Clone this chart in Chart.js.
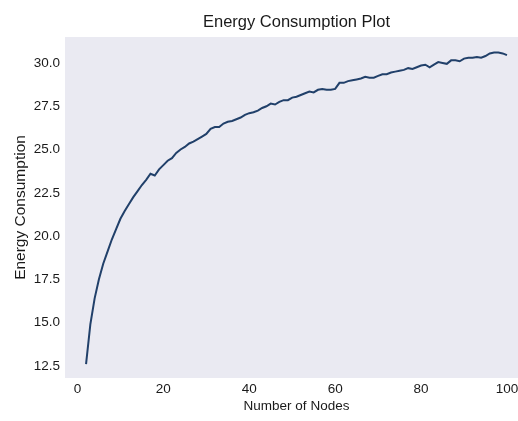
<!DOCTYPE html>
<html lang="en">
<head>
    <meta charset="UTF-8">
    <title>Energy Consumption Plot</title>
    <style>
        html, body {
            margin: 0;
            padding: 0;
            overflow: hidden;
            background: #ffffff;
        }
    </style>
</head>
<body>
    <canvas id="energyChart" width="530" height="421"></canvas>

    <script src="https://cdn.jsdelivr.net/npm/chart.js"></script>
    <script>
        // Number of nodes (x) and energy consumption (y)
        const nodes = [
            2, 3, 4, 5, 6, 7, 8, 9, 10, 11, 12, 13, 14, 15, 16, 17, 18, 19, 20,
            21, 22, 23, 24, 25, 26, 27, 28, 29, 30, 31, 32, 33, 34, 35, 36, 37, 38, 39, 40,
            41, 42, 43, 44, 45, 46, 47, 48, 49, 50, 51, 52, 53, 54, 55, 56, 57, 58, 59, 60,
            61, 62, 63, 64, 65, 66, 67, 68, 69, 70, 71, 72, 73, 74, 75, 76, 77, 78, 79, 80,
            81, 82, 83, 84, 85, 86, 87, 88, 89, 90, 91, 92, 93, 94, 95, 96, 97, 98, 99, 100
        ];
        const energy = [
            12.6, 14.9, 16.4, 17.5, 18.4, 19.1, 19.8, 20.4, 21.0, 21.45, 21.85, 22.25, 22.6, 22.95, 23.25, 23.6, 23.5, 23.85, 24.1,
            24.35, 24.5, 24.8, 25.0, 25.15, 25.35, 25.45, 25.6, 25.75, 25.9, 26.2, 26.3, 26.3, 26.5, 26.6, 26.65, 26.75, 26.85, 27.0, 27.1,
            27.15, 27.25, 27.4, 27.5, 27.65, 27.6, 27.75, 27.85, 27.85, 28.0, 28.05, 28.15, 28.25, 28.35, 28.3, 28.45, 28.5, 28.45, 28.45, 28.5,
            28.85, 28.85, 28.95, 29.0, 29.05, 29.1, 29.2, 29.15, 29.15, 29.25, 29.35, 29.35, 29.45, 29.5, 29.55, 29.6, 29.7, 29.65, 29.75, 29.85,
            29.9, 29.75, 29.9, 30.05, 30.0, 29.95, 30.15, 30.15, 30.1, 30.25, 30.3, 30.3, 30.35, 30.3, 30.4, 30.55, 30.6, 30.6, 30.55, 30.45
        ];
        const xTicks = [0, 20, 40, 60, 80, 100];
        const yTicks = [12.5, 15.0, 17.5, 20.0, 22.5, 25.0, 27.5, 30.0];

        const FONT = "'Liberation Sans', Arial, sans-serif";
        const TEXT = '#1a1a1a';

        // Fill the plot area with the seaborn grey-blue
        const plotBackground = {
            id: 'plotBackground',
            beforeDraw(chart) {
                const a = chart.chartArea;
                const c = chart.ctx;
                c.save();
                c.fillStyle = '#eaeaf2';
                c.fillRect(a.left, a.top, a.right - a.left, a.bottom - a.top);
                c.restore();
            }
        };

        const ctx = document.getElementById('energyChart').getContext('2d');
        new Chart(ctx, {
            type: 'line',
            data: {
                datasets: [{
                    label: 'Energy Consumption',
                    data: nodes.map((n, i) => ({ x: n, y: energy[i] })),
                    borderColor: '#21406a',
                    borderWidth: 2,
                    pointRadius: 0,
                    tension: 0,
                    fill: false
                }]
            },
            options: {
                responsive: false,
                animation: false,
                layout: { padding: { left: 0, right: 2, top: 0, bottom: 0 } },
                plugins: {
                    legend: { display: false },
                    tooltip: { enabled: false },
                    title: {
                        display: true,
                        text: 'Energy Consumption Plot',
                        fullSize: false,
                        color: TEXT,
                        font: { family: FONT, size: 16.5, weight: 'normal', lineHeight: 1.2 },
                        padding: { top: 12.5, bottom: 4.7 }
                    }
                },
                scales: {
                    x: {
                        type: 'linear',
                        min: -2.9,
                        max: 104.9,
                        grid: { display: false, drawTicks: false },
                        border: { display: false },
                        afterBuildTicks: (scale) => { scale.ticks = xTicks.map(v => ({ value: v })); },
                        afterFit: (scale) => { scale.height = 43; },
                        ticks: {
                            color: TEXT,
                            padding: 3,
                            maxRotation: 0,
                            font: { family: FONT, size: 13.5 },
                            callback: (v) => String(v)
                        },
                        title: {
                            display: true,
                            text: 'Number of Nodes',
                            color: TEXT,
                            font: { family: FONT, size: 13.5, lineHeight: 1.2 },
                            padding: { top: 0, bottom: 7 }
                        }
                    },
                    y: {
                        type: 'linear',
                        min: 11.8,
                        max: 31.5,
                        grid: { display: false, drawTicks: false },
                        border: { display: false },
                        afterBuildTicks: (scale) => { scale.ticks = yTicks.map(v => ({ value: v })); },
                        afterFit: (scale) => { scale.width = 65; },
                        ticks: {
                            color: TEXT,
                            padding: 5,
                            font: { family: FONT, size: 13.5 },
                            callback: (v) => Number(v).toFixed(1)
                        },
                        title: {
                            display: true,
                            text: 'Energy Consumption',
                            color: TEXT,
                            font: { family: FONT, size: 15.5, lineHeight: 1.2 },
                            padding: { top: 11, bottom: 0 }
                        }
                    }
                }
            },
            plugins: [plotBackground]
        });
    </script>
</body>
</html>
